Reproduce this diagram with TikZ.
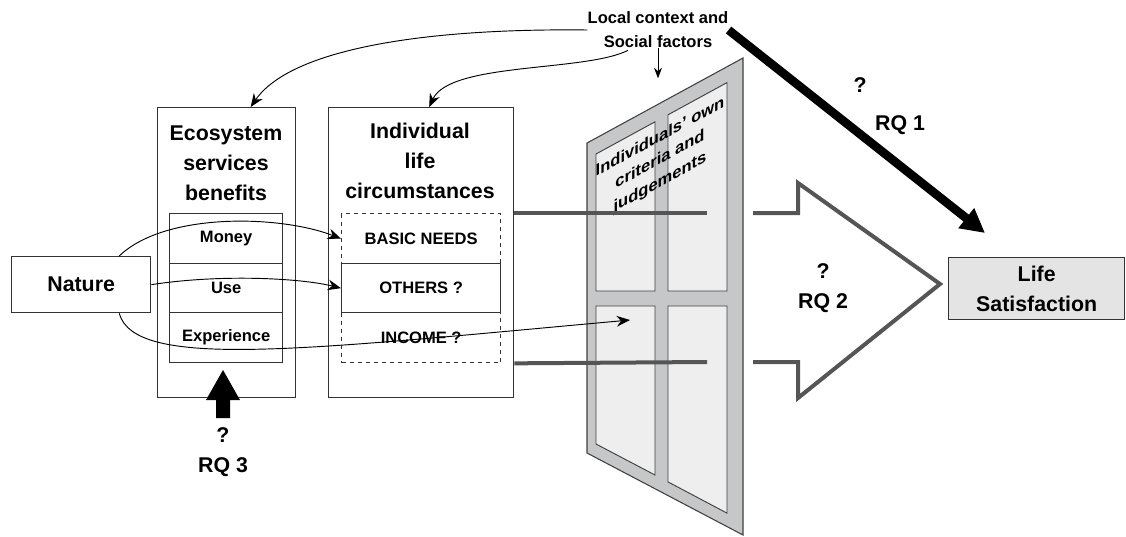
\documentclass[tikz,border=0pt]{standalone}
\usepackage{fontspec}
\setmainfont{Liberation Sans}
\usetikzlibrary{arrows.meta,calc}
\definecolor{framegray}{RGB}{198,199,200}
\definecolor{panegray}{RGB}{238,238,238}
\definecolor{rqgray}{RGB}{85,85,85}
\definecolor{lifegray}{RGB}{228,228,228}
\tikzset{
  box/.style={draw=black!80, line width=1pt, inner sep=0pt, anchor=north west},
  rowbox/.style={box, minimum width=84.75pt, font=\fontsize{12.4}{15}\selectfont\bfseries},
  needbox/.style={box, minimum width=119.25pt, font=\fontsize{12.4}{15}\selectfont\bfseries},
  title/.style={align=center, inner sep=0pt, font=\fontsize{16}{22.5}\selectfont\bfseries},
  small/.style={align=center, inner sep=0pt, font=\fontsize{12.4}{18}\selectfont\bfseries},
  link/.style={line width=0.7pt, -{Stealth[length=10pt,width=8pt]}},
  pane/.style={fill=panegray, draw=black!75, line width=0.7pt},
  rqline/.style={draw=rqgray, line width=3pt},
}
\begin{document}
\begin{tikzpicture}[x=0.75pt,y=0.75pt,yscale=-1,xscale=1]
\useasboundingbox (0,0) rectangle (1126,536);

%Window of criteria
\filldraw[fill=framegray, draw=black!75, line width=0.8pt] (587,143) -- (743,58) -- (743,535) -- (587,453) -- cycle;
\filldraw[pane] (596,154) -- (655,121.8) -- (655,291) -- (596,291) -- cycle;
\filldraw[pane] (668,114.8) -- (727,82.6) -- (727,291) -- (668,291) -- cycle;
\filldraw[pane] (596,306) -- (655,306) -- (655,475) -- (596,444) -- cycle;
\filldraw[pane] (668,306) -- (727,306) -- (727,513.1) -- (668,481.9) -- cycle;
\node[small, font=\fontsize{12.4}{17}\selectfont\bfseries, yslant=0.545] (crit) at (660,160) {Individuals' own\\criteria and\\judgements};

%Boxes
\node[box, minimum width=104.25pt, minimum height=42pt, font=\fontsize{16}{20}\selectfont\bfseries] (nature) at (11,256) {Nature};
\node[box, minimum width=103.5pt, minimum height=217.5pt] (ess) at (157,107) {};
\node[title] (esstitle) at (226,163) {Ecosystem\\services\\benefits};
\node[rowbox, minimum height=37.5pt] (money) at (169,213) {Money};
\node[rowbox, minimum height=36.75pt] (use) at (169,263) {Use};
\node[rowbox, minimum height=37.5pt] (exper) at (169,312) {Experience};

\node[box, minimum width=138.75pt, minimum height=217.5pt] (ind) at (328,107) {};
\node[title] (indtitle) at (420,161) {Individual\\life\\circumstances};
\node[needbox, dashed, minimum height=37.5pt] (needs) at (341,213) {BASIC NEEDS};
\node[needbox, dashed, minimum height=37.5pt] (income) at (341,312) {INCOME ?};
\node[needbox, minimum height=36.75pt] (others) at (341,263) {OTHERS ?};

\node[box, fill=lifegray, minimum width=132pt, minimum height=46.5pt, align=center,
  font=\fontsize{16}{22.5}\selectfont\bfseries] (life) at (948,257) {Life\\Satisfaction};

\node[small] (local) at (658,30) {Local context and\\Social factors};

%RQ 2 arrow
\draw[rqline] (ind.east |- needs.north) -- (707,213);
\draw[rqline] (ind.east |- income.south) -- (707,362);
\draw[rqline] (753,213) -- (798,213) -- (798,183) -- (940,284) -- (798,398) -- (798,362) -- (753,362);
\node[title] (rq2) at (823,288) {?\\RQ 2};

%Links from nature
\coordinate (judge) at (630,320);
\draw[link] (nature.37) .. controls (165,212) and (280,215) .. (needs.west);
\draw[link] (nature.east) .. controls (220,274) and (300,278) .. (others.west);
\draw[link] (nature.-37) .. controls (135,370) and (300,350) .. (judge);

%Local context links
\draw[link] (local.west) .. controls (420,28) and (290,50) .. ($(ess.north)+(24,0)$);
\draw[link] ($(local.south)+(-30,2)$) .. controls (585,72) and (450,62) .. ($(ind.north)+(8,0)$);
\draw[line width=0.7pt, -{Stealth[length=8pt,width=6pt]}] (local.south) -- ++(0,30);

%RQ 1
\draw[line width=6.5pt, -{Triangle[length=18pt,width=18pt]}] (local.east) -- ($(life.north west)+(37,-24)$);
\node[title] (rq1q) at (860,85) {?};
\node[title] (rq1) at (900,125) {RQ 1};

%RQ 3
\fill (216,418) -- (216,400) -- (206,400) -- (223,370) -- (240,400) -- (230,400) -- (230,418) -- cycle;
\node[title] (rq3) at (223,452) {?\\RQ 3};

\end{tikzpicture}
\end{document}
